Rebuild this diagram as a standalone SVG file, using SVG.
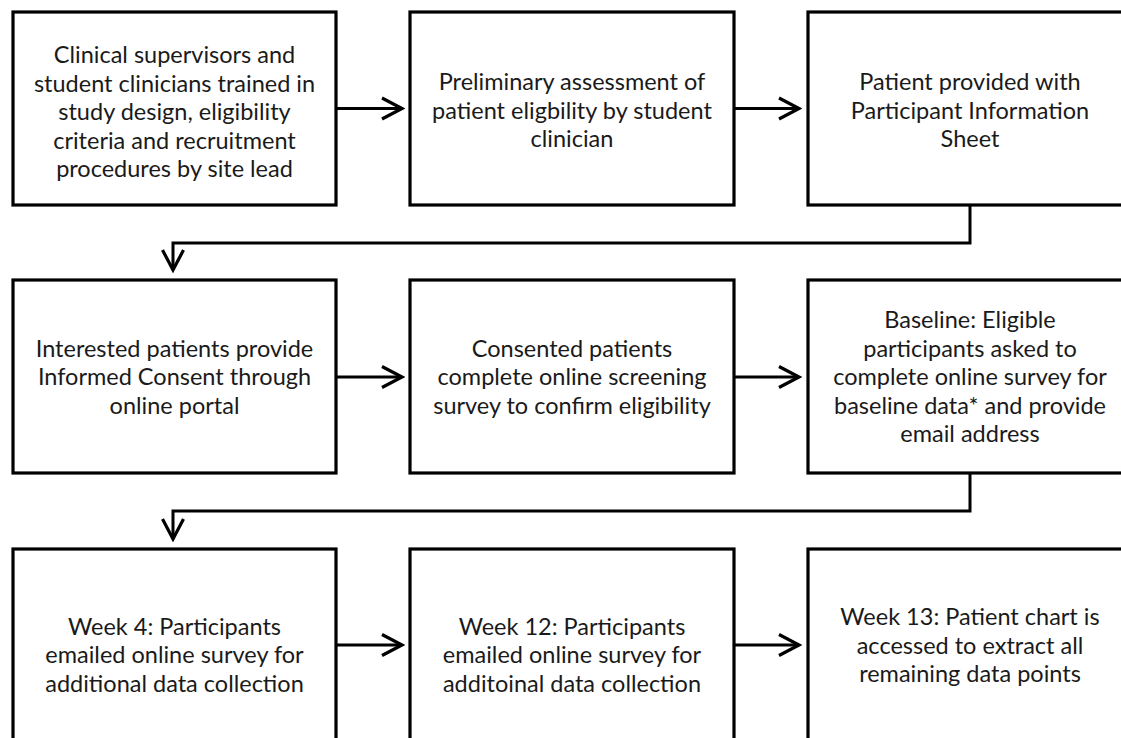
<svg xmlns="http://www.w3.org/2000/svg" width="1121" height="738" viewBox="0 0 1121 738">
  <style>
    .box { fill: #ffffff; stroke: #000000; stroke-width: 3.2; }
    .lbl { font-family: Lato, "Open Sans", sans-serif; font-size: 23.5px; fill: #1a1a1a; text-anchor: middle; }
    .wire { fill: none; stroke: #000000; stroke-width: 3; }
  </style>
  <defs>
    <marker id="chev" markerUnits="userSpaceOnUse" viewBox="-24 -13 27 26" refX="0" refY="0" markerWidth="27" markerHeight="26" orient="auto">
      <path d="M -20 -10.5 L 0 0 L -20 10.5" fill="none" stroke="#000000" stroke-width="3.2" stroke-linejoin="miter"/>
    </marker>
  </defs>
  <rect width="1121" height="738" fill="#ffffff"/>

  <!-- connectors -->
  <g id="connectors">
    <path class="wire" d="M 336 108.5 H 402" marker-end="url(#chev)"/>
    <path class="wire" d="M 734 108.5 H 799" marker-end="url(#chev)"/>
    <path class="wire" d="M 970 205 V 243 H 173 V 270" marker-end="url(#chev)"/>
    <path class="wire" d="M 336 377 H 402" marker-end="url(#chev)"/>
    <path class="wire" d="M 734 377 H 799" marker-end="url(#chev)"/>
    <path class="wire" d="M 970 473 V 511 H 173 V 539" marker-end="url(#chev)"/>
    <path class="wire" d="M 336 645 H 402" marker-end="url(#chev)"/>
    <path class="wire" d="M 734 645 H 799" marker-end="url(#chev)"/>
  </g>

  <!-- row 1 -->
  <g id="n1">
    <rect class="box" x="13" y="12" width="323" height="193"/>
    <text class="lbl" x="174.5" y="63">Clinical supervisors and</text>
    <text class="lbl" x="174.5" y="91.5">student clinicians trained in</text>
    <text class="lbl" x="174.5" y="120">study design, eligibility</text>
    <text class="lbl" x="174.5" y="148.5">criteria and recruitment</text>
    <text class="lbl" x="174.5" y="177">procedures by site lead</text>
  </g>
  <g id="n2">
    <rect class="box" x="410" y="12" width="324" height="193"/>
    <text class="lbl" x="572" y="90">Preliminary assessment of</text>
    <text class="lbl" x="572" y="118.5">patient eligbility by student</text>
    <text class="lbl" x="572" y="147">clinician</text>
  </g>
  <g id="n3">
    <rect class="box" x="808" y="12" width="324" height="193"/>
    <text class="lbl" x="970" y="90">Patient provided with</text>
    <text class="lbl" x="970" y="118.5">Participant Information</text>
    <text class="lbl" x="970" y="147">Sheet</text>
  </g>

  <!-- row 2 -->
  <g id="n4">
    <rect class="box" x="13" y="280" width="323" height="193"/>
    <text class="lbl" x="174.5" y="356.5">Interested patients provide</text>
    <text class="lbl" x="174.5" y="385">Informed Consent through</text>
    <text class="lbl" x="174.5" y="413.5">online portal</text>
  </g>
  <g id="n5">
    <rect class="box" x="410" y="280" width="324" height="193"/>
    <text class="lbl" x="572" y="356.5">Consented patients</text>
    <text class="lbl" x="572" y="385">complete online screening</text>
    <text class="lbl" x="572" y="413.5">survey to confirm eligibility</text>
  </g>
  <g id="n6">
    <rect class="box" x="808" y="280" width="324" height="193"/>
    <text class="lbl" x="970" y="328">Baseline: Eligible</text>
    <text class="lbl" x="970" y="356.5">participants asked to</text>
    <text class="lbl" x="970" y="385">complete online survey for</text>
    <text class="lbl" x="970" y="413.5">baseline data* and provide</text>
    <text class="lbl" x="970" y="442">email address</text>
  </g>

  <!-- row 3 -->
  <g id="n7">
    <rect class="box" x="13" y="549" width="323" height="193"/>
    <text class="lbl" x="174.5" y="634.5">Week 4: Participants</text>
    <text class="lbl" x="174.5" y="663">emailed online survey for</text>
    <text class="lbl" x="174.5" y="691.5">additional data collection</text>
  </g>
  <g id="n8">
    <rect class="box" x="410" y="549" width="324" height="193"/>
    <text class="lbl" x="572" y="634.5">Week 12: Participants</text>
    <text class="lbl" x="572" y="663">emailed online survey for</text>
    <text class="lbl" x="572" y="691.5">additoinal data collection</text>
  </g>
  <g id="n9">
    <rect class="box" x="808" y="549" width="324" height="193"/>
    <text class="lbl" x="970" y="625">Week 13: Patient chart is</text>
    <text class="lbl" x="970" y="653.5">accessed to extract all</text>
    <text class="lbl" x="970" y="682">remaining data points</text>
  </g>
</svg>
